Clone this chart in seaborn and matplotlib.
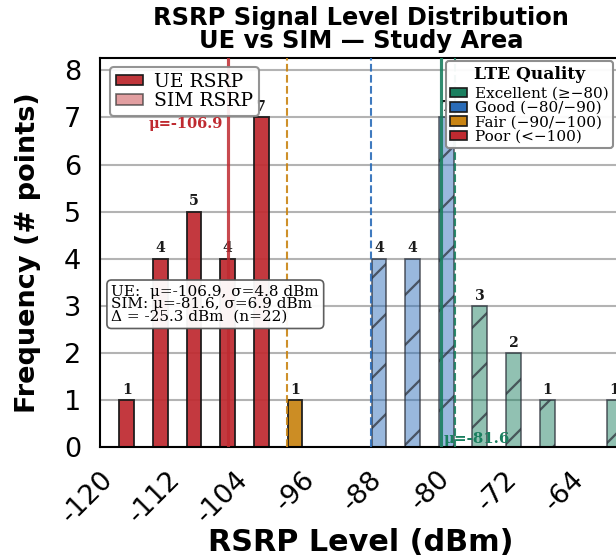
import numpy as np
import pandas as pd
import matplotlib
matplotlib.use("Agg")
import matplotlib.pyplot as plt
import seaborn as sns
from matplotlib.patches import Patch
from matplotlib.colors import to_rgba

# ---------------- data ----------------
ue_centers = [-119, -115, -111, -107, -103, -99]
ue_counts = [1, 4, 5, 4, 7, 1]
sim_centers = [-89, -85, -81, -77, -73, -69, -61]
sim_counts = [4, 4, 7, 3, 2, 1, 1]
ue_mean, ue_std = -106.9, 4.8
sim_mean, sim_std = -81.6, 6.9
n_points = 22
thresholds = [-100, -90, -80]
quality_names = ["Excellent", "Good", "Fair", "Poor"]
quality_labels = ["Excellent (≥−80)", "Good (−80/−90)", "Fair (−90/−100)", "Poor (<−100)"]
xticks = [-120, -112, -104, -96, -88, -80, -72, -64]
xtick_labels = ["-120", "-112", "-104", "-96", "-88", "-80", "-72", "-64"]
yticks = [0, 1, 2, 3, 4, 5, 6, 7, 8]

colors = {"Excellent": "#1a7f5f", "Good": "#2a6cb8", "Fair": "#c98413", "Poor": "#bf2a30"}
thr_colors = ["Fair", "Good", "Excellent"]


def quality(v):
    if v >= -80:
        return "Excellent"
    if v >= -90:
        return "Good"
    if v >= -100:
        return "Fair"
    return "Poor"


ue_df = pd.DataFrame({"rsrp": ue_centers, "count": ue_counts})
ue_df["quality"] = ue_df["rsrp"].map(quality)
sim_df = pd.DataFrame({"rsrp": sim_centers, "count": sim_counts})
sim_df["quality"] = sim_df["rsrp"].map(quality)

# ---------------- style ----------------
sns.set_style("white")
plt.rcParams["font.family"] = ["DejaVu Sans"]
plt.rcParams["text.color"] = "black"
plt.rcParams["axes.labelcolor"] = "black"
plt.rcParams["hatch.linewidth"] = 1.1
plt.rcParams["hatch.color"] = (0.18, 0.2, 0.24, 0.85)

DPI = 150
fig = plt.figure(figsize=(616 / DPI, 559 / DPI), dpi=DPI)
ax = fig.add_axes([100 / 616, 1 - 447.3 / 559, 522 / 616, 389.3 / 559])

serif = "DejaVu Serif"

# UE bars (solid)
sns.barplot(data=ue_df, x="rsrp", y="count", hue="quality", palette=colors,
            native_scale=True, dodge=False, width=0.44, errorbar=None, saturation=1,
            legend=False, ax=ax, edgecolor="#1a1a1a", linewidth=0.9, alpha=0.93,
            zorder=2)
n_ue = len(ax.patches)

# SIM bars (hatched, translucent)
sns.barplot(data=sim_df, x="rsrp", y="count", hue="quality", palette=colors,
            native_scale=True, dodge=False, width=0.44, errorbar=None, saturation=1,
            legend=False, ax=ax, linewidth=0.8, zorder=2)
for p in ax.patches[n_ue:]:
    fc = p.get_facecolor()
    p.set_alpha(None)
    p.set_facecolor(to_rgba(fc[:3], 0.48))
    p.set_edgecolor((0.18, 0.2, 0.24, 0.75))
    p.set_hatch("/")

# bar count labels
for c, h in zip(ue_centers + sim_centers, ue_counts + sim_counts):
    ax.text(c, h + 0.07, str(h), ha="center", va="bottom", fontsize=6.8,
            fontweight="bold", family=serif, color="#1a1a1a", zorder=3)

# threshold lines
for t, q in zip(thresholds, thr_colors):
    ax.axvline(t, color=colors[q], lw=1.0, ls="--", alpha=0.9, zorder=3)

# mean lines
ax.axvline(ue_mean, color=colors["Poor"], lw=1.5, alpha=0.85, zorder=3)
ax.axvline(sim_mean, color=colors["Excellent"], lw=1.5, alpha=0.9, zorder=3)
ax.text(ue_mean - 0.6, 6.87, f"μ={ue_mean}", color=colors["Poor"], ha="right",
        va="center", fontsize=7, fontweight="bold", family=serif, zorder=4)
ax.text(sim_mean + 0.3, 0.03, f"μ={sim_mean}", color=colors["Excellent"], ha="left",
        va="bottom", fontsize=7.2, fontweight="bold", family=serif, zorder=4)

# stats box
stats = (f"UE:  μ={ue_mean}, σ={ue_std} dBm\n"
         f"SIM: μ={sim_mean}, σ={sim_std} dBm\n"
         f"Δ = {ue_mean - sim_mean:.1f} dBm  (n={n_points})")
ax.text(0.022, 0.418, stats, transform=ax.transAxes, ha="left", va="top",
        fontsize=7.3, family=serif, linespacing=0.88, zorder=6,
        bbox=dict(boxstyle="round,pad=0.3", fc="white", ec="#555555", lw=0.8, alpha=0.95))

# axes
ax.set_xlim(-122.18, -60.1)
ax.set_ylim(0, 8.26)
ax.set_xticks(xticks)
ax.set_xticklabels(xtick_labels, rotation=45, ha="right")
ax.set_yticks(yticks)
ax.tick_params(axis="both", length=5, width=1.0, direction="out", labelsize=13, pad=4,
               color="black", labelcolor="black")
ax.yaxis.grid(True, color="#b3b3b3", lw=1.0)
ax.xaxis.grid(False)
ax.set_axisbelow(True)
for s in ax.spines.values():
    s.set_visible(True)
    s.set_color("black")
    s.set_linewidth(1.0)

ax.set_xlabel("RSRP Level (dBm)", fontsize=14.5, fontweight="bold", labelpad=0)
ax.set_ylabel("Frequency (# points)", fontsize=13, fontweight="bold", labelpad=11)
ax.set_title("RSRP Signal Level Distribution\nUE vs SIM — Study Area", fontsize=11.6,
             fontweight="bold", pad=5, linespacing=0.92)

# legends
leg1_handles = [
    Patch(facecolor="#c0363b", edgecolor="#1a1a1a", lw=0.8, label="UE RSRP"),
    Patch(facecolor=to_rgba(colors["Poor"], 0.45), edgecolor=(0.2, 0.2, 0.2, 0.7),
          hatch="/", lw=0.8, label="SIM RSRP"),
]
leg1 = ax.legend(handles=leg1_handles, loc="upper left", bbox_to_anchor=(0.019, 0.977),
                 borderaxespad=0, prop={"family": serif, "size": 9}, handlelength=1.45,
                 handleheight=0.5, labelspacing=0.08, borderpad=0.3, handletextpad=0.6,
                 frameon=True, fancybox=True, edgecolor="#888888", framealpha=0.9)
ax.add_artist(leg1)

leg2_handles = [Patch(facecolor=colors[q], edgecolor="#1a1a1a", lw=0.8, label=l)
                for q, l in zip(quality_names, quality_labels)]
leg2 = ax.legend(handles=leg2_handles, loc="upper right", bbox_to_anchor=(0.983, 0.992),
                 borderaxespad=0, prop={"family": serif, "size": 7.3}, handlelength=1.1,
                 handleheight=0.6, labelspacing=0.02, borderpad=0.3, handletextpad=0.5,
                 title="LTE Quality", title_fontproperties={"family": serif, "size": 8.2,
                                                             "weight": "bold"},
                 frameon=True, fancybox=True, edgecolor="#888888", framealpha=0.95)
leg2._legend_box.sep = 2
leg2.set_zorder(7)
leg1.set_zorder(7)

fig.savefig("out.png", dpi=DPI)
